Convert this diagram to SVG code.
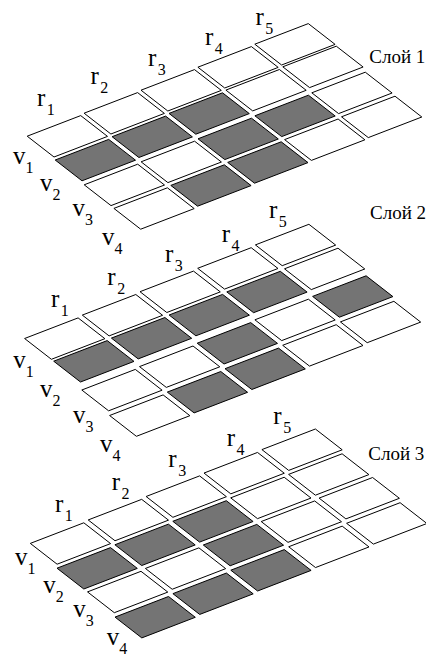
<svg xmlns="http://www.w3.org/2000/svg" xmlns:xlink="http://www.w3.org/1999/xlink" width="426" height="656" viewBox="0 0 426 656">
<style>
.w{fill:#fff;stroke:#000;stroke-width:1}
.g{fill:#747474;stroke:#000;stroke-width:1}
.lb{font-family:"Liberation Serif","Times New Roman",serif;font-size:25px;fill:#000}
.sb{font-size:16px}
.ly{font-family:"Liberation Serif","Times New Roman",serif;font-size:19px;fill:#000}
</style>
<defs>
<path id="cell" d="M0,0 l53.5,-20.6 l26.8,20.8 l-53.5,20.6 z"/>
</defs>
<rect width="426" height="656" fill="#fff"/>
<g id="layer1">
<use href="#cell" x="27.2" y="136.2" class="w"/><use href="#cell" x="84.1" y="113.2" class="w"/><use href="#cell" x="141.0" y="90.2" class="w"/><use href="#cell" x="197.9" y="67.2" class="w"/><use href="#cell" x="254.8" y="44.2" class="w"/>
<use href="#cell" x="55.2" y="160.0" class="g"/><use href="#cell" x="112.1" y="136.7" class="g"/><use href="#cell" x="169.0" y="113.4" class="g"/><use href="#cell" x="225.9" y="90.1" class="w"/><use href="#cell" x="282.8" y="66.8" class="w"/>
<use href="#cell" x="84.2" y="184.8" class="w"/><use href="#cell" x="141.1" y="161.8" class="w"/><use href="#cell" x="198.0" y="138.8" class="g"/><use href="#cell" x="254.9" y="115.8" class="g"/><use href="#cell" x="311.8" y="92.8" class="w"/>
<use href="#cell" x="113.9" y="208.4" class="w"/><use href="#cell" x="170.8" y="185.4" class="g"/><use href="#cell" x="227.7" y="162.4" class="g"/><use href="#cell" x="284.6" y="139.6" class="w"/><use href="#cell" x="341.5" y="116.8" class="w"/>
</g>
<g id="layer2">
<use href="#cell" x="24.6" y="338.5" class="w"/><use href="#cell" x="82.3" y="315.1" class="w"/><use href="#cell" x="140.0" y="291.7" class="w"/><use href="#cell" x="197.7" y="268.3" class="w"/><use href="#cell" x="255.4" y="244.9" class="w"/>
<use href="#cell" x="53.7" y="361.2" class="g"/><use href="#cell" x="111.4" y="338.1" class="g"/><use href="#cell" x="169.1" y="315.0" class="g"/><use href="#cell" x="226.8" y="291.9" class="g"/><use href="#cell" x="284.5" y="268.8" class="w"/>
<use href="#cell" x="81.8" y="390.0" class="w"/><use href="#cell" x="139.5" y="366.6" class="w"/><use href="#cell" x="197.2" y="343.2" class="g"/><use href="#cell" x="254.9" y="319.8" class="w"/><use href="#cell" x="312.6" y="296.4" class="g"/>
<use href="#cell" x="109.6" y="415.5" class="w"/><use href="#cell" x="167.3" y="392.1" class="g"/><use href="#cell" x="225.0" y="368.7" class="g"/><use href="#cell" x="282.7" y="345.3" class="w"/><use href="#cell" x="340.4" y="321.9" class="w"/>
</g>
<g id="layer3">
<use href="#cell" x="30.3" y="543.4" class="w"/><use href="#cell" x="88.2" y="519.95" class="w"/><use href="#cell" x="146.1" y="496.5" class="w"/><use href="#cell" x="204.0" y="473.05" class="w"/><use href="#cell" x="261.9" y="449.6" class="w"/>
<use href="#cell" x="57.0" y="568.2" class="g"/><use href="#cell" x="114.9" y="544.75" class="g"/><use href="#cell" x="172.8" y="521.3" class="g"/><use href="#cell" x="230.7" y="497.85" class="w"/><use href="#cell" x="288.6" y="474.4" class="w"/>
<use href="#cell" x="87.5" y="591.9" class="w"/><use href="#cell" x="145.4" y="568.45" class="w"/><use href="#cell" x="203.3" y="545.0" class="g"/><use href="#cell" x="261.2" y="521.55" class="w"/><use href="#cell" x="319.1" y="498.1" class="w"/>
<use href="#cell" x="115.0" y="617.1" class="g"/><use href="#cell" x="172.9" y="593.65" class="g"/><use href="#cell" x="230.8" y="570.2" class="g"/><use href="#cell" x="288.7" y="546.75" class="w"/><use href="#cell" x="346.6" y="523.3" class="w"/>
</g>
<g id="labels1">
<text class="lb" x="37" y="106">r<tspan class="sb" dx="1.5" dy="9">1</tspan></text>
<text class="lb" x="90.5" y="84">r<tspan class="sb" dx="1.5" dy="9">2</tspan></text>
<text class="lb" x="148" y="65.5">r<tspan class="sb" dx="1.5" dy="9">3</tspan></text>
<text class="lb" x="205" y="45">r<tspan class="sb" dx="1.5" dy="9">4</tspan></text>
<text class="lb" x="255.5" y="25">r<tspan class="sb" dx="1.5" dy="9">5</tspan></text>
<text class="lb" x="13" y="164">v<tspan class="sb" dy="9">1</tspan></text>
<text class="lb" x="40" y="191">v<tspan class="sb" dy="9">2</tspan></text>
<text class="lb" x="72.5" y="216">v<tspan class="sb" dy="9">3</tspan></text>
<text class="lb" x="102" y="245">v<tspan class="sb" dy="9">4</tspan></text>
<text class="ly" x="369.3" y="63.3">Слой 1</text>
</g>
<g id="labels2">
<text class="lb" x="51" y="307">r<tspan class="sb" dx="1.5" dy="9">1</tspan></text>
<text class="lb" x="107.3" y="285">r<tspan class="sb" dx="1.5" dy="9">2</tspan></text>
<text class="lb" x="165" y="262">r<tspan class="sb" dx="1.5" dy="9">3</tspan></text>
<text class="lb" x="221.7" y="241.5">r<tspan class="sb" dx="1.5" dy="9">4</tspan></text>
<text class="lb" x="269" y="218.3">r<tspan class="sb" dx="1.5" dy="9">5</tspan></text>
<text class="lb" x="13.3" y="368">v<tspan class="sb" dy="9">1</tspan></text>
<text class="lb" x="40" y="396.7">v<tspan class="sb" dy="9">2</tspan></text>
<text class="lb" x="73" y="423">v<tspan class="sb" dy="9">3</tspan></text>
<text class="lb" x="100" y="451.7">v<tspan class="sb" dy="9">4</tspan></text>
<text class="ly" x="370" y="219">Слой 2</text>
</g>
<g id="labels3">
<text class="lb" x="55" y="511.7">r<tspan class="sb" dx="1.5" dy="9">1</tspan></text>
<text class="lb" x="111.7" y="490">r<tspan class="sb" dx="1.5" dy="9">2</tspan></text>
<text class="lb" x="168.3" y="466.5">r<tspan class="sb" dx="1.5" dy="9">3</tspan></text>
<text class="lb" x="226.7" y="446">r<tspan class="sb" dx="1.5" dy="9">4</tspan></text>
<text class="lb" x="273.3" y="423.5">r<tspan class="sb" dx="1.5" dy="9">5</tspan></text>
<text class="lb" x="15" y="565">v<tspan class="sb" dy="9">1</tspan></text>
<text class="lb" x="43.3" y="593.3">v<tspan class="sb" dy="9">2</tspan></text>
<text class="lb" x="73.3" y="616.5">v<tspan class="sb" dy="9">3</tspan></text>
<text class="lb" x="106.7" y="645">v<tspan class="sb" dy="9">4</tspan></text>
<text class="ly" x="368.3" y="460">Слой 3</text>
</g>
</svg>
